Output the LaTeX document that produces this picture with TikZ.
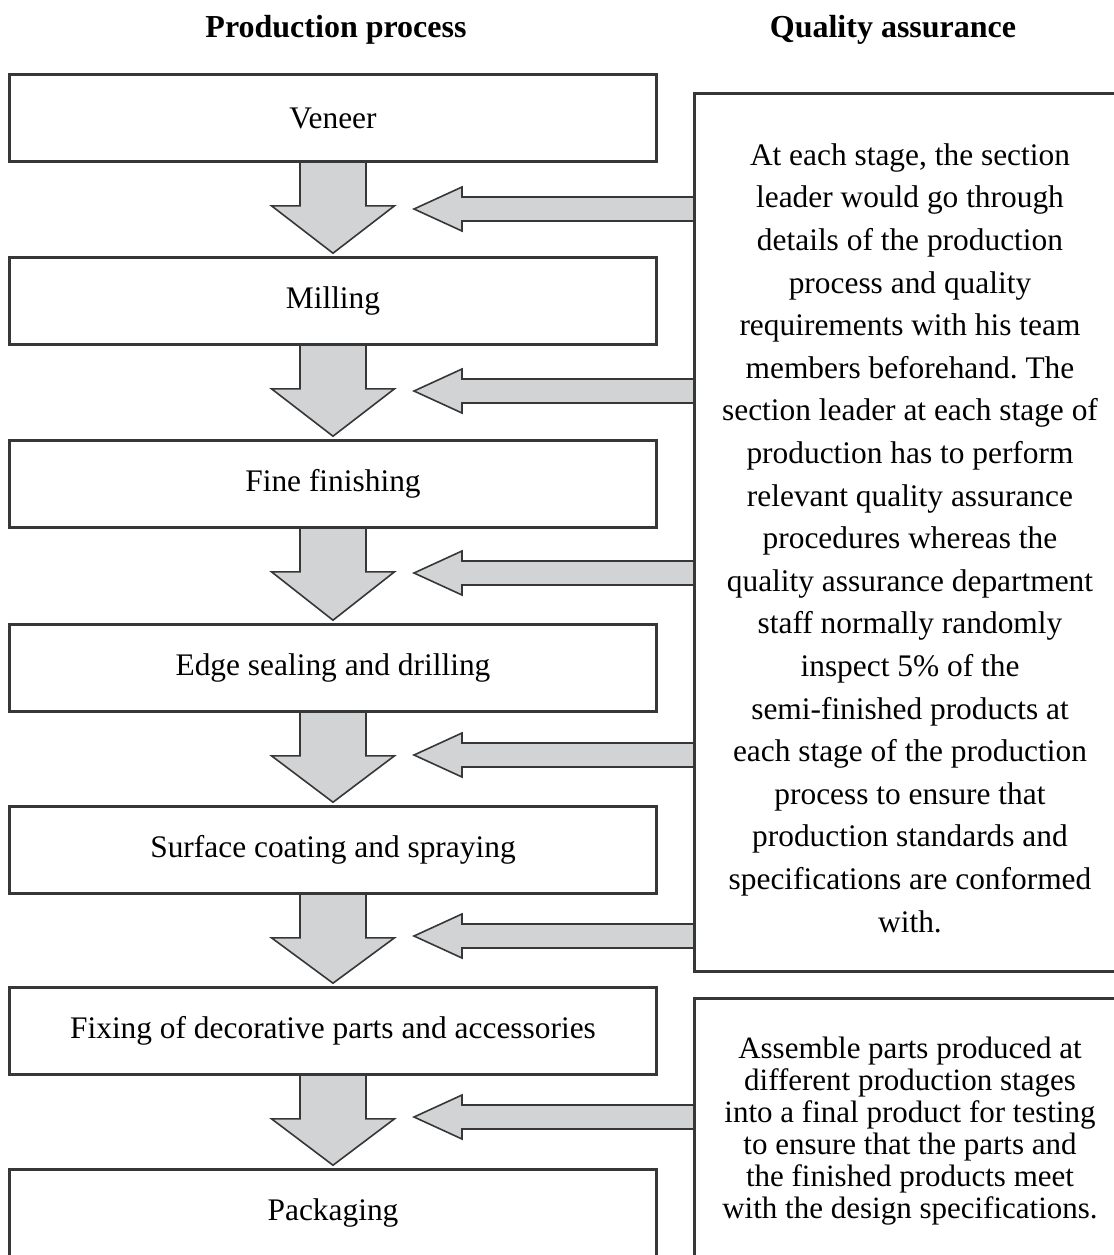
\documentclass[tikz,border=0pt]{standalone}
\usepackage{fontspec}
\setmainfont{Liberation Serif}
\usetikzlibrary{calc}
\definecolor{ln}{RGB}{55,55,55}
\definecolor{fl}{RGB}{209,211,213}
\frenchspacing
\begin{document}
\begin{tikzpicture}[x=0.5pt,y=-0.5pt,
  stage/.style={draw=ln, line width=0.8pt, minimum width=323pt, minimum height=43pt, inner sep=0pt, font=\fontsize{15.7}{18}\selectfont},
  qabox/.style={draw=ln, line width=0.8pt, inner sep=0pt},
  qatext/.style={align=center, inner sep=0pt},
  blk/.style={draw=ln, fill=fl, line width=0.8pt, line join=miter},
  hdr/.style={font=\fontsize{16}{18}\selectfont\bfseries}]
\useasboundingbox (0,0) rectangle (1114,1255);
\clip (0,0) rectangle (1114,1255);

\node[hdr] (h1) at (336,30) {Production process};
\node[hdr] (h2) at (893,30) {Quality assurance};

\node[stage] (b1) at (333,118) {Veneer};
\node[stage] (b2) at (333,301) {Milling};
\node[stage] (b3) at (333,484) {Fine finishing};
\node[stage] (b4) at (333,668) {Edge sealing and drilling};
\node[stage] (b5) at (333,850) {Surface coating and spraying};
\node[stage] (b6) at (333,1031) {Fixing of decorative parts and accessories};
\node[stage] (b7) at (333,1213) {Packaging};

\node[qabox, minimum width=215pt, minimum height=438.5pt] (qa1) at (910,532.5) {};
\node[qabox, minimum width=215pt, minimum height=140.5pt] (qa2) at (910,1139.5) {};

\node[qatext, font=\fontsize{15.7}{21.3}\selectfont] (qa1t) at (910,538) {At each stage, the section\\
leader would go through\\
details of the production\\
process and quality\\
requirements with his team\\
members beforehand. The\\
section leader at each stage of\\
production has to perform\\
relevant quality assurance\\
procedures whereas the\\
quality assurance department\\
staff normally randomly\\
inspect 5\% of the\\
semi-finished products at\\
each stage of the production\\
process to ensure that\\
production standards and\\
specifications are conformed\\
with.};

\node[qatext, font=\fontsize{15.5}{16}\selectfont] (qa2t) at (910,1131) {Assemble parts produced at\\
different production stages\\
into a final product for testing\\
to ensure that the parts and\\
the finished products meet\\
with the design specifications.};

% down block arrows
\foreach \a/\b in {b1/b2,b2/b3,b3/b4,b4/b5,b5/b6,b6/b7}{
  \path (\a.south) coordinate (s);
  \draw[blk] ($(s)+(-33,0)$) -- ($(s)+(-33,44)$) -- ($(s)+(-61.5,44)$) -- ($(\b.north)+(0,-4)$)
     -- ($(s)+(61.5,44)$) -- ($(s)+(33,44)$) -- ($(s)+(33,0)$);
}
% left block arrows
\foreach \y/\q in {209/qa1,391/qa1,573/qa1,755/qa1,936/qa1,1117/qa2}{
  \coordinate (t) at (414,\y);
  \draw[blk] ($(\q.west|-t)+(0,-12)$) -- ($(t)+(48,-12)$) -- ($(t)+(48,-22)$) -- (t)
     -- ($(t)+(48,22)$) -- ($(t)+(48,12)$) -- ($(\q.west|-t)+(0,12)$);
}
% redraw box borders on top
\foreach \n in {b1,b2,b3,b4,b5,b6,b7,qa1,qa2}{
  \draw[ln, line width=0.8pt] (\n.south west) rectangle (\n.north east);
}
\end{tikzpicture}
\end{document}
